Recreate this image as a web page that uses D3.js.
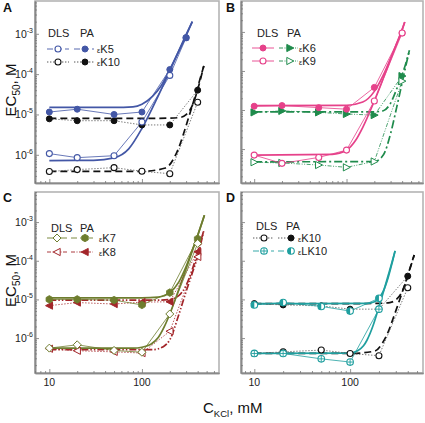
<!DOCTYPE html>
<html><head><meta charset="utf-8">
<script src="https://cdn.jsdelivr.net/npm/d3@7"></script>
<style>body{margin:0;background:#fff}svg{display:block;font-family:"Liberation Sans",Arial,sans-serif}</style>
</head><body><svg id="c" width="425" height="423"></svg>
<script>
// ---------- data ----------
const kclA5 = [10, 20, 50, 100, 200, 300];
const kcl = [10, 20, 50, 100, 200, 400];
const kclLK = [10, 20, 50, 100, 200];

// Panel A
const aK5DLS = [1.07e-6, 8.5e-7, 9.5e-7, 6.5e-6, 9.3e-5, 8e-4];
const aK5PA = [1.15e-5, 1.35e-5, 1.0e-5, 1.15e-5, 1.3e-4, 8e-4];
const aK10DLS = [3.85e-7, 4.3e-7, 4.8e-7, 3.9e-7, 3.4e-7, 2e-5];
const aK10PA = [7.8e-6, 7e-6, 7e-6, 5.5e-6, 5.5e-6, 4e-5];
const fitAK5PA = [[10,1.5e-5],[50,1.5e-5],[80,1.55e-5],[100,1.8e-5],[130,2.8e-5],[160,5e-5],[200,1.3e-4],[250,3.7e-4],[300,9e-4],[350,2e-3]];
const fitAK5DLS = [[10,7.2e-7],[30,7.3e-7],[50,8.4e-7],[72,1.4e-6],[100,4.5e-6],[150,2.9e-5],[200,1.2e-4],[250,3.8e-4],[300,9.5e-4],[350,2e-3]];
const fitAK10PA = [[10,8e-6],[100,8e-6],[200,8.1e-6],[260,8.45e-6],[300,9.9e-6],[340,1.45e-5],[380,2.8e-5],[420,6.2e-5],[466,1.6e-4]];
const fitAK10DLS = [[10,3.9e-7],[100,3.9e-7],[180,4.7e-7],[220,8e-7],[250,1.5e-6],[280,3.2e-6],[320,8.5e-6],[363,2.2e-5],[420,7e-5],[466,1.6e-4]];

// Panel B
const bK6DLS = [1.25e-5, 1.3e-5, 1.15e-5, 1.05e-5, 3.8e-5, 9.4e-4];
const bK9DLS = [7e-7, 4.3e-7, 6.1e-7, 9.4e-7, 1.7e-5, 9.4e-4];
const bK6PA = [8.7e-6, 9.5e-6, 8.7e-6, 7.9e-6, 7.4e-6, 7.4e-5];
const bK9PA = [4.6e-7, 4.4e-7, 3.9e-7, 3.4e-7, 4.8e-7, 5.5e-5];
const fitBK6DLS = [[10,1.3e-5],[100,1.32e-5],[150,1.6e-5],[200,3e-5],[250,7.8e-5],[300,2.1e-4],[350,5.2e-4],[400,1.16e-3],[427,1.8e-3]];
const fitBK9DLS = [[10,7e-7],[70,7.3e-7],[100,9.4e-7],[125,1.65e-6],[150,3.6e-6],[200,1.7e-5],[250,6.5e-5],[300,2e-4],[350,5e-4],[400,1.13e-3],[427,1.8e-3]];
const fitBK6PA = [[10,9e-6],[200,9e-6],[250,9.6e-6],[300,1.5e-5],[350,3.5e-5],[400,8e-5],[440,1.6e-4],[480,3.4e-4]];
const fitBK9PA = [[10,4.7e-7],[200,4.8e-7],[250,7e-7],[300,2.5e-6],[350,1.2e-5],[400,5e-5],[440,1.4e-4],[480,3.4e-4]];

// Panel C
const cK7DLS = [5.5e-7, 6.7e-7, 4.8e-7, 4.3e-7, 4.2e-6, 2.8e-4];
const cK7PA = [1e-5, 1e-5, 9.6e-6, 7.2e-6, 1.5e-5, 3.7e-4];
const cK8DLS = [5.3e-7, 4.7e-7, 4.4e-7, 4.1e-7, 1.5e-6, 1.26e-4];
const cK8PA = [6.9e-6, 8.3e-6, 7.6e-6, 8.5e-6, 8.7e-6, 1.7e-4];
const fitCK7PA = [[10,1.1e-5],[100,1.1e-5],[150,1.15e-5],[200,1.5e-5],[250,2.8e-5],[300,7.1e-5],[350,1.9e-4],[400,4.5e-4],[473,1.5e-3]];
const fitCK7DLS = [[10,5.5e-7],[80,5.5e-7],[100,5.8e-7],[125,6.9e-7],[150,1.03e-6],[175,2e-6],[200,4.2e-6],[250,1.8e-5],[300,6.2e-5],[350,1.8e-4],[400,4.5e-4],[473,1.5e-3]];
const fitCK8PA = [[10,9.6e-6],[150,9.6e-6],[200,1e-5],[250,1.25e-5],[300,2.3e-5],[350,6e-5],[400,1.7e-4],[466,6.1e-4]];
const fitCK8DLS = [[10,5e-7],[130,5e-7],[170,6e-7],[200,9e-7],[250,4e-6],[300,1.6e-5],[350,4.8e-5],[400,1.3e-4],[466,6.1e-4]];

// Panel D
const dK10DLS = [4e-7, 4.4e-7, 4.9e-7, 4e-7, 3.5e-7, 2e-5];
const dK10PA = [7.8e-6, 7.2e-6, 6.8e-6, 5.6e-6, 5.6e-6, 4e-5];
const dLK10DLS = [4e-7, 4e-7, 2.9e-7, 2.4e-7, 5.6e-6];
const dLK10PA = [7.2e-6, 8.3e-6, 6.6e-6, 5e-6, 1.07e-5];
const fitDK10PA = [[10,7.8e-6],[100,7.8e-6],[200,7.9e-6],[260,8.3e-6],[300,9.7e-6],[340,1.4e-5],[380,2.7e-5],[420,6e-5],[467,1.4e-4]];
const fitDK10DLS = [[10,4e-7],[100,4e-7],[180,4.6e-7],[220,7.8e-7],[250,1.45e-6],[280,3.1e-6],[320,8e-6],[363,2e-5],[420,6.2e-5],[467,1.4e-4]];
const fitDLK10PA = [[10,7.8e-6],[150,7.9e-6],[180,8.7e-6],[200,1.07e-5],[220,1.56e-5],[250,3.7e-5],[275,8.9e-5],[295,1.8e-4]];
const fitDLK10DLS = [[10,4e-7],[100,4.1e-7],[120,4.7e-7],[138,6.3e-7],[150,8.8e-7],[175,2.2e-6],[200,6.4e-6],[225,1.7e-5],[250,4.2e-5],[275,9.6e-5],[295,1.8e-4]];

const yTickLabels = ["-3", "-4", "-5", "-6"];
const yTickValues = [1e-3, 1e-4, 1e-5, 1e-6];
const xTickLabels = ["10", "100"];
const xTickValues = [10, 100];

// ---------- styles ----------
const C = {blue:"#4357a6", pink:"#e6418a", green:"#1f8b4c", olive:"#6e7d2e", red:"#a3262a", teal:"#1f9f9f", black:"#111"};
const DASH = {solid:null, dot:"1.4,1.6", dash:"7,4", dashdot:"8,3,2,3", dashdotdot:"7,2,1.5,2,1.5,2", thinDashdotdot:"4,1.5,1,1.5,1,1.5", thinDashdot:"4,1.5,1,1.5"};

const svg = d3.select("#c");

function marker(g, type, cx, cy, col) {
  const r = 3;
  switch (type) {
    case "circleOpen":
      g.append("circle").attr("cx",cx).attr("cy",cy).attr("r",r).attr("fill","#fff").attr("stroke",col).attr("stroke-width",1.1); break;
    case "circleFilled":
      g.append("circle").attr("cx",cx).attr("cy",cy).attr("r",r).attr("fill",col).attr("stroke",col).attr("stroke-width",1); break;
    case "triRightFilled": case "triRightOpen": {
      const p = [[cx-3.2,cy-3.6],[cx+3.8,cy],[cx-3.2,cy+3.6]];
      g.append("path").attr("d","M"+p.join("L")+"Z").attr("fill",type.endsWith("Filled")?col:"#fff").attr("stroke",col).attr("stroke-width",1); break; }
    case "triLeftFilled": case "triLeftOpen": {
      const p = [[cx+3.2,cy-3.6],[cx-3.8,cy],[cx+3.2,cy+3.6]];
      g.append("path").attr("d","M"+p.join("L")+"Z").attr("fill",type.endsWith("Filled")?col:"#fff").attr("stroke",col).attr("stroke-width",1); break; }
    case "diamondOpen": {
      const p = [[cx,cy-4],[cx+4,cy],[cx,cy+4],[cx-4,cy]];
      g.append("path").attr("d","M"+p.join("L")+"Z").attr("fill","#fff").attr("stroke",col).attr("stroke-width",1); break; }
    case "hexFilled": {
      const p = d3.range(6).map(i => [cx+3.8*Math.cos(Math.PI/3*i+Math.PI/6), cy+3.8*Math.sin(Math.PI/3*i+Math.PI/6)]);
      g.append("path").attr("d","M"+p.join("L")+"Z").attr("fill",col).attr("stroke",col).attr("stroke-width",0.8); break; }
    case "circleCross":
      g.append("circle").attr("cx",cx).attr("cy",cy).attr("r",r+0.3).attr("fill","#fff").attr("stroke",col).attr("stroke-width",1.1);
      g.append("path").attr("d",`M${cx-r},${cy}H${cx+r}M${cx},${cy-r}V${cy+r}`).attr("stroke",col).attr("stroke-width",0.9); break;
    case "circleHalf":
      g.append("circle").attr("cx",cx).attr("cy",cy).attr("r",r+0.3).attr("fill","#fff").attr("stroke",col).attr("stroke-width",1.1);
      g.append("path").attr("d",`M${cx},${cy-r-0.3}A${r+0.3},${r+0.3} 0 0 0 ${cx},${cy+r+0.3}Z`).attr("fill",col); break;
  }
}

const panels = [
  { letter:"A", l:35, t:1, r:219, b:183, xd:[7,680], yd:[2e-7,6.5e-3], ylabels:true, xlabels:false, lx:3, ly:12,
    fits:[
      {pts:fitAK10PA, col:C.black, dash:DASH.dash, w:1.7},
      {pts:fitAK10DLS, col:C.black, dash:DASH.dash, w:1.7},
      {pts:fitAK5PA, col:C.blue, dash:null, w:1.7},
      {pts:fitAK5DLS, col:C.blue, dash:null, w:1.7}],
    series:[
      {x:kcl, y:aK10DLS, col:C.black, lineCol:"#555", dash:DASH.dot, m:"circleOpen"},
      {x:kcl, y:aK10PA, col:C.black, lineCol:"#555", dash:DASH.dot, m:"circleFilled"},
      {x:kclA5, y:aK5DLS, col:C.blue, lineCol:C.blue, dash:null, m:"circleOpen"},
      {x:kclA5, y:aK5PA, col:C.blue, lineCol:C.blue, dash:null, m:"circleFilled"}],
    legend:{hx:[48,80], hy:37, rows:[
      {y:49, a:{col:C.blue, m:"circleOpen", dash:"6,3"}, b:{col:C.blue, m:"circleFilled", dash:"6,3"}, label:"K5"},
      {y:62, a:{col:"#444", m:"circleOpen", dash:DASH.dot, mc:C.black}, b:{col:"#444", m:"circleFilled", dash:DASH.dot, mc:C.black}, label:"K10"}],
      ax:[47,69,58], bx:[74,94,85], tx:97}
  },
  { letter:"B", l:241, t:1, r:423, b:183, xd:[7.2,673], yd:[1.35e-7,6.2e-3], ylabels:false, xlabels:false, lx:226, ly:12,
    fits:[
      {pts:fitBK6PA, col:C.green, dash:DASH.dashdot, w:1.7},
      {pts:fitBK9PA, col:C.green, dash:DASH.dashdot, w:1.7},
      {pts:fitBK6DLS, col:C.pink, dash:null, w:1.7},
      {pts:fitBK9DLS, col:C.pink, dash:null, w:1.7}],
    series:[
      {x:kcl, y:bK6PA, col:C.green, lineCol:C.green, dash:DASH.thinDashdotdot, m:"triRightFilled"},
      {x:kcl, y:bK9PA, col:C.green, lineCol:C.green, dash:DASH.thinDashdotdot, m:"triRightOpen"},
      {x:kcl, y:bK6DLS, col:C.pink, lineCol:C.pink, dash:null, m:"circleFilled"},
      {x:kcl, y:bK9DLS, col:C.pink, lineCol:C.pink, dash:null, m:"circleOpen"}],
    legend:{hx:[257,287], hy:37, rows:[
      {y:48, a:{col:C.pink, m:"circleFilled", dash:null}, b:{col:C.green, m:"triRightFilled", dash:DASH.thinDashdotdot}, label:"K6"},
      {y:61, a:{col:C.pink, m:"circleOpen", dash:null}, b:{col:C.green, m:"triRightOpen", dash:DASH.thinDashdotdot}, label:"K9"}],
      ax:[252,274,263], bx:[279,298,290], tx:299}
  },
  { letter:"C", l:35, t:192, r:219, b:373, xd:[7,680], yd:[1.25e-7,6e-3], ylabels:true, xlabels:true, lx:3, ly:202,
    fits:[
      {pts:fitCK8PA, col:C.red, dash:DASH.dashdotdot, w:1.7},
      {pts:fitCK8DLS, col:C.red, dash:DASH.dashdotdot, w:1.7},
      {pts:fitCK7PA, col:C.olive, dash:null, w:1.7},
      {pts:fitCK7DLS, col:C.olive, dash:null, w:1.7}],
    series:[
      {x:kcl, y:cK8PA, col:C.red, lineCol:C.red, dash:DASH.dot, m:"triLeftFilled"},
      {x:kcl, y:cK8DLS, col:C.red, lineCol:C.red, dash:DASH.dot, m:"triLeftOpen"},
      {x:kcl, y:cK7PA, col:C.olive, lineCol:C.olive, dash:null, m:"hexFilled"},
      {x:kcl, y:cK7DLS, col:C.olive, lineCol:C.olive, dash:null, m:"diamondOpen"}],
    legend:{hx:[51,80], hy:232, rows:[
      {y:238, a:{col:C.olive, m:"diamondOpen", dash:null}, b:{col:C.olive, m:"hexFilled", dash:"6,3"}, label:"K7"},
      {y:252, a:{col:C.red, m:"triLeftOpen", dash:DASH.thinDashdot}, b:{col:C.red, m:"triLeftFilled", dash:DASH.thinDashdot}, label:"K8"}],
      ax:[47,67,57], bx:[71,93,85], tx:99}
  },
  { letter:"D", l:241, t:192, r:423, b:373, xd:[7.26,577], yd:[1.25e-7,6e-3], ylabels:false, xlabels:true, lx:226, ly:202,
    fits:[
      {pts:fitDK10PA, col:C.black, dash:DASH.dash, w:1.7},
      {pts:fitDK10DLS, col:C.black, dash:DASH.dash, w:1.7},
      {pts:fitDLK10PA, col:C.teal, dash:null, w:1.7},
      {pts:fitDLK10DLS, col:C.teal, dash:null, w:1.7}],
    series:[
      {x:kcl, y:dK10DLS, col:C.black, lineCol:"#555", dash:DASH.dot, m:"circleOpen"},
      {x:kcl, y:dK10PA, col:C.black, lineCol:"#555", dash:DASH.dot, m:"circleFilled"},
      {x:kclLK, y:dLK10DLS, col:C.teal, lineCol:C.teal, dash:null, m:"circleCross"},
      {x:kclLK, y:dLK10PA, col:C.teal, lineCol:C.teal, dash:null, m:"circleHalf"}],
    legend:{hx:[256,286], hy:230, rows:[
      {y:238, a:{col:"#444", m:"circleOpen", dash:DASH.dot, mc:C.black}, b:{col:"#444", m:"circleFilled", dash:DASH.dot, mc:C.black}, label:"K10"},
      {y:251, a:{col:C.teal, m:"circleCross", dash:"6,3"}, b:{col:C.teal, m:"circleHalf", dash:"6,3"}, label:"LK10"}],
      ax:[253,274,264], bx:[278,296,291], tx:298}
  }
];

function minorTicks(d0, d1, dom) {
  const out = [];
  for (let e = d0; e <= d1; e++) for (let m = 2; m <= 9; m++) {
    const v = m * Math.pow(10, e);
    if (v >= dom[0] && v <= dom[1]) out.push(v);
  }
  return out;
}

panels.forEach(p => {
  const x = d3.scaleLog().domain(p.xd).range([p.l, p.r]);
  const y = d3.scaleLog().domain(p.yd).range([p.b, p.t]);
  const g = svg.append("g");

  // frame
  g.append("rect").attr("x",p.l).attr("y",p.t).attr("width",p.r-p.l).attr("height",p.b-p.t)
    .attr("fill","none").attr("stroke","#b4b4b4").attr("stroke-width",1.6);

  // axes (inward ticks)
  const yMaj = d3.axisLeft(y).tickValues(yTickValues).tickSize(-4).tickSizeOuter(0).tickFormat("");
  const yMin = d3.axisLeft(y).tickValues(minorTicks(-7, -3, p.yd)).tickSize(-2).tickSizeOuter(0).tickFormat("");
  const xMaj = d3.axisBottom(x).tickValues(xTickValues).tickSize(-4).tickSizeOuter(0).tickFormat("");
  const xMin = d3.axisBottom(x).tickValues(minorTicks(0, 2, p.xd)).tickSize(-2).tickSizeOuter(0).tickFormat("");
  [[yMaj,"translate("+p.l+",0)"],[yMin,"translate("+p.l+",0)"],[xMaj,"translate(0,"+p.b+")"],[xMin,"translate(0,"+p.b+")"]].forEach(([ax,tr]) => {
    const a = g.append("g").attr("transform",tr).call(ax);
    a.selectAll("path.domain").attr("stroke","#8a8a8a").attr("stroke-width",1.6);
    a.selectAll(".tick line").attr("stroke","#777").attr("stroke-width",0.8);
  });

  if (p.ylabels) {
    yTickValues.forEach((v,i) => {
      const t = g.append("text").attr("x",p.l-2).attr("y",y(v)+4).attr("text-anchor","end")
        .attr("font-size",10.5).attr("fill","#222");
      t.append("tspan").text("10");
      t.append("tspan").attr("dy",-5).attr("font-size",7).text(yTickLabels[i]);
    });
    const cy = (p.t + p.b) / 2 - 2;
    const t = g.append("text").attr("transform",`translate(16,${cy}) rotate(-90)`).attr("text-anchor","middle")
      .attr("font-size",15).attr("fill","#111");
    t.append("tspan").text("EC");
    t.append("tspan").attr("dy",4).attr("font-size",10).text("50");
    t.append("tspan").attr("dy",-4).text(", M");
  }
  if (p.xlabels) {
    xTickValues.forEach((v,i) => {
      g.append("text").attr("x",x(v)).attr("y",p.b+13).attr("text-anchor","middle")
        .attr("font-size",10.5).attr("fill","#222").text(xTickLabels[i]);
    });
  }

  // panel letter
  g.append("text").attr("x",p.lx).attr("y",p.ly).attr("font-size",12.5).attr("font-weight","bold").attr("fill","#111").text(p.letter);

  // fits
  const fitLine = d3.line().x(d => x(d[0])).y(d => y(d[1])).curve(d3.curveMonotoneX);
  p.fits.forEach(f => {
    g.append("path").attr("d",fitLine(f.pts)).attr("fill","none").attr("stroke",f.col)
      .attr("stroke-width",f.w).attr("stroke-dasharray",f.dash);
  });

  // data connectors + markers
  p.series.forEach(s => {
    const pts = s.x.map((xv,i) => [xv, s.y[i]]);
    g.append("path").attr("d",d3.line().x(d => x(d[0])).y(d => y(d[1]))(pts)).attr("fill","none")
      .attr("stroke",s.lineCol).attr("stroke-width",0.8).attr("stroke-dasharray",s.dash);
  });
  p.series.forEach(s => {
    s.x.forEach((xv,i) => marker(g, s.m, x(xv), y(s.y[i]), s.col));
  });

  // legend
  const L = p.legend;
  g.append("text").attr("x",L.hx[0]).attr("y",L.hy).attr("font-size",11).attr("fill","#222").text("DLS");
  g.append("text").attr("x",L.hx[1]).attr("y",L.hy).attr("font-size",11).attr("fill","#222").text("PA");
  L.rows.forEach(rw => {
    [[rw.a, L.ax],[rw.b, L.bx]].forEach(([it, xs]) => {
      g.append("line").attr("x1",xs[0]).attr("x2",xs[1]).attr("y1",rw.y).attr("y2",rw.y)
        .attr("stroke",it.col).attr("stroke-width",0.9).attr("stroke-dasharray",it.dash);
      marker(g, it.m, xs[2], rw.y, it.mc || it.col);
    });
    const t = g.append("text").attr("x",L.tx).attr("y",rw.y+4).attr("font-size",11).attr("fill","#222");
    t.append("tspan").attr("font-size",7.5).text("ε");
    t.append("tspan").text(rw.label);
  });
});

// x-axis title
const xt = svg.append("text").attr("x",203).attr("y",413).attr("font-size",15).attr("fill","#111");
xt.append("tspan").text("C");
xt.append("tspan").attr("dy",4).attr("font-size",9.5).text("KCl");
xt.append("tspan").attr("dy",-4).text(", mM");
</script>
</body></html>
